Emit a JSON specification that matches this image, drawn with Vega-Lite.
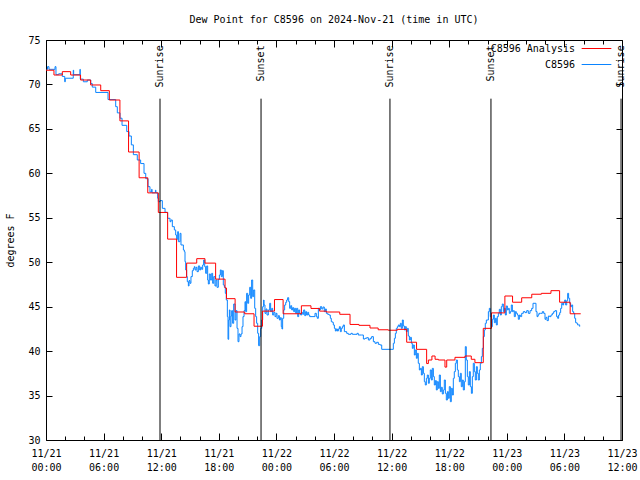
{
  "$schema": "https://vega.github.io/schema/vega-lite/v6.json",
  "autosize": "none",
  "width": 576,
  "height": 400,
  "padding": {"left": 46, "top": 40, "right": 18, "bottom": 40},
  "title": {"text": "Dew Point for C8596 on 2024-Nov-21 (time in UTC)", "font": "DejaVu Sans Mono", "fontSize": 10, "fontWeight": "normal", "color": "black", "anchor": "middle", "offset": 10},
  "config": {
    "font": "DejaVu Sans Mono",
    "view": {"stroke": "black", "strokeWidth": 1},
    "axis": {"grid": false, "domain": false, "labelFont": "DejaVu Sans Mono", "labelFontSize": 10, "labelColor": "black", "tickColor": "black", "titleFont": "DejaVu Sans Mono", "titleFontSize": 10, "titleFontWeight": "normal", "titleColor": "black"}
  },
  "datasets": {
    "sun": [
      {"h": 11.875, "label": "Sunrise"},
      {"h": 22.4, "label": "Sunset"},
      {"h": 35.83, "label": "Sunrise"},
      {"h": 46.35, "label": "Sunset"},
      {"h": 59.9, "label": "Sunrise"}
    ],
    "dew": [
      {"s":"C8596","h":0.07,"v":71.7},{"s":"C8596","h":0.16,"v":72.0},{"s":"C8596","h":0.31,"v":71.7},{"s":"C8596","h":0.94,"v":72.0},{"s":"C8596","h":1.04,"v":71.1},{"s":"C8596","h":1.32,"v":71.2},{"s":"C8596","h":1.7,"v":70.9},{"s":"C8596","h":1.95,"v":70.3},{"s":"C8596","h":2.01,"v":70.7},{"s":"C8596","h":2.84,"v":71.6},{"s":"C8596","h":2.88,"v":71.1},{"s":"C8596","h":3.54,"v":71.7},{"s":"C8596","h":3.57,"v":70.6},{"s":"C8596","h":3.89,"v":70.3},{"s":"C8596","h":4.3,"v":70.5},{"s":"C8596","h":4.66,"v":70.1},{"s":"C8596","h":4.82,"v":69.7},{"s":"C8596","h":5.18,"v":69.1},{"s":"C8596","h":6.46,"v":68.3},{"s":"C8596","h":7.26,"v":67.5},{"s":"C8596","h":7.43,"v":66.8},{"s":"C8596","h":7.71,"v":66.2},{"s":"C8596","h":7.92,"v":65.4},{"s":"C8596","h":8.41,"v":64.7},{"s":"C8596","h":8.65,"v":64.2},{"s":"C8596","h":8.89,"v":63.2},{"s":"C8596","h":9.1,"v":62.1},{"s":"C8596","h":9.51,"v":61.5},{"s":"C8596","h":9.86,"v":61.1},{"s":"C8596","h":10.21,"v":60.0},{"s":"C8596","h":10.39,"v":59.4},{"s":"C8596","h":10.63,"v":58.5},{"s":"C8596","h":10.83,"v":57.9},{"s":"C8596","h":11.0,"v":58.2},{"s":"C8596","h":11.05,"v":57.8},{"s":"C8596","h":11.4,"v":58.1},{"s":"C8596","h":11.45,"v":57.8},
      {"s":"C8596","h":11.63,"v":57.19},{"s":"C8596","h":11.7,"v":56.81},{"s":"C8596","h":11.88,"v":56.93},{"s":"C8596","h":12.12,"v":56.06},{"s":"C8596","h":12.4,"v":55.61},{"s":"C8596","h":12.67,"v":54.94},{"s":"C8596","h":12.92,"v":54.56},{"s":"C8596","h":13.02,"v":54.75},{"s":"C8596","h":13.16,"v":54.0},{"s":"C8596","h":13.37,"v":53.63},{"s":"C8596","h":13.51,"v":53.06},{"s":"C8596","h":13.61,"v":52.58},{"s":"C8596","h":13.72,"v":53.44},{"s":"C8596","h":13.79,"v":52.31},{"s":"C8596","h":13.96,"v":53.25},{"s":"C8596","h":14.06,"v":51.94},{"s":"C8596","h":14.31,"v":51.38},{"s":"C8596","h":14.41,"v":51.19},{"s":"C8596","h":14.48,"v":50.06},{"s":"C8596","h":14.55,"v":49.13},{"s":"C8596","h":14.65,"v":48.38},{"s":"C8596","h":14.72,"v":47.81},{"s":"C8596","h":14.83,"v":47.33},{"s":"C8596","h":14.9,"v":47.93},{"s":"C8596","h":15.0,"v":47.63},{"s":"C8596","h":15.1,"v":48.38},{"s":"C8596","h":15.24,"v":49.05},{"s":"C8596","h":15.35,"v":49.31},{"s":"C8596","h":15.45,"v":49.5},{"s":"C8596","h":15.52,"v":49.13},{"s":"C8596","h":15.63,"v":49.43},{"s":"C8596","h":15.73,"v":48.94},{"s":"C8596","h":15.87,"v":49.58},{"s":"C8596","h":16.01,"v":49.13},{"s":"C8596","h":16.11,"v":49.43},{"s":"C8596","h":16.22,"v":49.2},{"s":"C8596","h":16.32,"v":49.69},{"s":"C8596","h":16.42,"v":50.25},{"s":"C8596","h":16.53,"v":49.5},{"s":"C8596","h":16.63,"v":48.75},{"s":"C8596","h":16.74,"v":49.58},{"s":"C8596","h":16.84,"v":48.0},{"s":"C8596","h":16.91,"v":47.55},{"s":"C8596","h":17.01,"v":48.68},{"s":"C8596","h":17.12,"v":48.0},{"s":"C8596","h":17.26,"v":48.75},{"s":"C8596","h":17.36,"v":47.63},{"s":"C8596","h":17.47,"v":48.38},{"s":"C8596","h":17.6,"v":47.33},{"s":"C8596","h":17.71,"v":48.0},{"s":"C8596","h":17.81,"v":47.18},{"s":"C8596","h":17.95,"v":48.08},{"s":"C8596","h":18.06,"v":48.56},{"s":"C8596","h":18.16,"v":49.13},{"s":"C8596","h":18.26,"v":48.38},{"s":"C8596","h":18.37,"v":49.05},{"s":"C8596","h":18.47,"v":47.44},{"s":"C8596","h":18.58,"v":47.18},{"s":"C8596","h":18.68,"v":46.5},{"s":"C8596","h":18.78,"v":45.75},{"s":"C8596","h":18.89,"v":43.88},{"s":"C8596","h":18.96,"v":41.33},{"s":"C8596","h":19.03,"v":43.5},{"s":"C8596","h":19.1,"v":44.63},{"s":"C8596","h":19.17,"v":42.75},{"s":"C8596","h":19.27,"v":43.95},{"s":"C8596","h":19.34,"v":44.55},{"s":"C8596","h":19.44,"v":43.13},{"s":"C8596","h":19.55,"v":45.3},{"s":"C8596","h":19.69,"v":43.5},{"s":"C8596","h":19.79,"v":44.55},{"s":"C8596","h":19.9,"v":42.56},{"s":"C8596","h":20.0,"v":41.06},{"s":"C8596","h":20.1,"v":41.93},{"s":"C8596","h":20.21,"v":41.63},{"s":"C8596","h":20.31,"v":41.93},{"s":"C8596","h":20.42,"v":42.75},{"s":"C8596","h":20.52,"v":43.88},{"s":"C8596","h":20.63,"v":44.55},{"s":"C8596","h":20.73,"v":45.56},{"s":"C8596","h":20.8,"v":44.44},{"s":"C8596","h":20.9,"v":46.5},{"s":"C8596","h":21.01,"v":45.38},{"s":"C8596","h":21.11,"v":46.31},{"s":"C8596","h":21.22,"v":47.18},{"s":"C8596","h":21.32,"v":45.94},{"s":"C8596","h":21.42,"v":48.0},{"s":"C8596","h":21.53,"v":46.13},{"s":"C8596","h":21.63,"v":46.88},{"s":"C8596","h":21.74,"v":44.81},{"s":"C8596","h":21.84,"v":43.88},{"s":"C8596","h":21.94,"v":43.13},{"s":"C8596","h":22.05,"v":42.0},{"s":"C8596","h":22.15,"v":40.61},{"s":"C8596","h":22.26,"v":41.63},{"s":"C8596","h":22.36,"v":42.56},{"s":"C8596","h":22.47,"v":43.5},{"s":"C8596","h":22.57,"v":45.0},{"s":"C8596","h":22.67,"v":45.75},
      {"s":"C8596","h":22.71,"v":45.19},{"s":"C8596","h":22.81,"v":44.25},{"s":"C8596","h":22.92,"v":44.74},{"s":"C8596","h":23.02,"v":44.06},{"s":"C8596","h":23.16,"v":44.63},{"s":"C8596","h":23.3,"v":45.38},{"s":"C8596","h":23.4,"v":44.44},{"s":"C8596","h":23.51,"v":44.81},{"s":"C8596","h":23.61,"v":44.06},{"s":"C8596","h":23.72,"v":44.36},{"s":"C8596","h":23.85,"v":43.88},{"s":"C8596","h":23.96,"v":44.25},{"s":"C8596","h":24.06,"v":43.69},{"s":"C8596","h":24.2,"v":43.99},{"s":"C8596","h":24.31,"v":43.5},{"s":"C8596","h":24.41,"v":43.76},{"s":"C8596","h":24.51,"v":42.75},{"s":"C8596","h":24.58,"v":42.49},{"s":"C8596","h":24.65,"v":43.69},{"s":"C8596","h":24.76,"v":44.63},{"s":"C8596","h":24.86,"v":45.19},{"s":"C8596","h":24.97,"v":45.49},{"s":"C8596","h":25.07,"v":45.75},{"s":"C8596","h":25.17,"v":46.01},{"s":"C8596","h":25.28,"v":45.56},{"s":"C8596","h":25.38,"v":44.81},{"s":"C8596","h":25.49,"v":45.11},{"s":"C8596","h":25.59,"v":44.63},{"s":"C8596","h":25.69,"v":44.89},{"s":"C8596","h":25.8,"v":44.44},{"s":"C8596","h":25.9,"v":44.81},{"s":"C8596","h":26.01,"v":44.25},{"s":"C8596","h":26.11,"v":44.81},{"s":"C8596","h":26.22,"v":43.88},{"s":"C8596","h":26.32,"v":44.63},{"s":"C8596","h":26.42,"v":44.25},{"s":"C8596","h":26.53,"v":44.06},{"s":"C8596","h":26.63,"v":44.36},{"s":"C8596","h":26.74,"v":44.14},{"s":"C8596","h":26.84,"v":44.63},{"s":"C8596","h":26.95,"v":43.99},{"s":"C8596","h":27.05,"v":44.44},{"s":"C8596","h":27.15,"v":44.06},{"s":"C8596","h":27.26,"v":44.36},{"s":"C8596","h":27.36,"v":44.06},{"s":"C8596","h":27.47,"v":43.88},{"s":"C8596","h":28.02,"v":44.25},{"s":"C8596","h":28.16,"v":43.88},{"s":"C8596","h":28.26,"v":43.69},{"s":"C8596","h":28.37,"v":44.81},{"s":"C8596","h":28.47,"v":44.63},{"s":"C8596","h":28.58,"v":45.0},{"s":"C8596","h":28.72,"v":44.74},{"s":"C8596","h":28.85,"v":44.96},{"s":"C8596","h":28.99,"v":44.44},{"s":"C8596","h":29.1,"v":44.74},{"s":"C8596","h":29.2,"v":44.25},{"s":"C8596","h":29.34,"v":44.14},{"s":"C8596","h":29.48,"v":44.06},{"s":"C8596","h":29.62,"v":43.69},{"s":"C8596","h":29.72,"v":43.31},{"s":"C8596","h":29.83,"v":43.24},{"s":"C8596","h":29.93,"v":42.94},{"s":"C8596","h":30.04,"v":42.56},{"s":"C8596","h":30.14,"v":42.26},{"s":"C8596","h":30.24,"v":42.49},{"s":"C8596","h":30.35,"v":42.26},{"s":"C8596","h":30.45,"v":42.49},{"s":"C8596","h":30.56,"v":42.75},{"s":"C8596","h":30.66,"v":42.19},{"s":"C8596","h":30.76,"v":42.56},{"s":"C8596","h":30.87,"v":42.75},{"s":"C8596","h":30.97,"v":42.94},{"s":"C8596","h":31.08,"v":42.19},{"s":"C8596","h":31.32,"v":42.0},{"s":"C8596","h":31.49,"v":41.89},{"s":"C8596","h":31.77,"v":42.0},{"s":"C8596","h":31.91,"v":41.89},{"s":"C8596","h":32.4,"v":42.0},{"s":"C8596","h":32.53,"v":41.81},{"s":"C8596","h":32.88,"v":41.81},{"s":"C8596","h":33.06,"v":41.36},{"s":"C8596","h":33.23,"v":41.44},{"s":"C8596","h":33.4,"v":41.51},{"s":"C8596","h":33.58,"v":41.25},{"s":"C8596","h":33.75,"v":41.44},{"s":"C8596","h":33.92,"v":41.63},{"s":"C8596","h":34.1,"v":41.06},{"s":"C8596","h":34.27,"v":40.88},{"s":"C8596","h":34.44,"v":40.99},{"s":"C8596","h":34.62,"v":40.76},{"s":"C8596","h":34.79,"v":40.69},{"s":"C8596","h":34.97,"v":40.2},
      {"s":"C8596","h":36.18,"v":40.88},{"s":"C8596","h":36.29,"v":41.44},{"s":"C8596","h":36.39,"v":42.0},{"s":"C8596","h":36.49,"v":42.56},{"s":"C8596","h":36.6,"v":42.75},{"s":"C8596","h":36.7,"v":42.94},{"s":"C8596","h":36.81,"v":42.75},{"s":"C8596","h":36.91,"v":43.13},{"s":"C8596","h":37.01,"v":42.56},{"s":"C8596","h":37.12,"v":43.5},{"s":"C8596","h":37.22,"v":42.83},{"s":"C8596","h":37.33,"v":42.38},{"s":"C8596","h":37.43,"v":42.75},{"s":"C8596","h":37.53,"v":42.19},{"s":"C8596","h":37.64,"v":42.56},{"s":"C8596","h":37.74,"v":41.7},{"s":"C8596","h":37.85,"v":41.25},{"s":"C8596","h":37.95,"v":41.55},{"s":"C8596","h":38.06,"v":40.88},{"s":"C8596","h":38.16,"v":40.31},{"s":"C8596","h":38.26,"v":40.69},{"s":"C8596","h":38.37,"v":39.56},{"s":"C8596","h":38.47,"v":40.13},{"s":"C8596","h":38.58,"v":39.19},{"s":"C8596","h":38.68,"v":39.75},{"s":"C8596","h":38.78,"v":38.63},{"s":"C8596","h":38.89,"v":37.88},{"s":"C8596","h":38.99,"v":38.06},{"s":"C8596","h":39.1,"v":37.31},{"s":"C8596","h":39.2,"v":38.25},{"s":"C8596","h":39.31,"v":37.5},{"s":"C8596","h":39.41,"v":36.56},{"s":"C8596","h":39.51,"v":36.19},{"s":"C8596","h":39.62,"v":36.94},{"s":"C8596","h":39.72,"v":37.31},{"s":"C8596","h":39.83,"v":36.38},{"s":"C8596","h":39.93,"v":36.94},{"s":"C8596","h":40.03,"v":37.88},{"s":"C8596","h":40.14,"v":36.75},{"s":"C8596","h":40.24,"v":38.06},{"s":"C8596","h":40.35,"v":37.13},{"s":"C8596","h":40.45,"v":36.19},{"s":"C8596","h":40.56,"v":36.68},{"s":"C8596","h":40.66,"v":35.63},{"s":"C8596","h":40.76,"v":36.56},{"s":"C8596","h":40.87,"v":35.81},{"s":"C8596","h":40.97,"v":37.31},{"s":"C8596","h":41.08,"v":35.44},{"s":"C8596","h":41.18,"v":35.93},{"s":"C8596","h":41.28,"v":35.18},{"s":"C8596","h":41.39,"v":35.63},{"s":"C8596","h":41.49,"v":36.75},{"s":"C8596","h":41.6,"v":35.25},{"s":"C8596","h":41.7,"v":34.5},{"s":"C8596","h":41.81,"v":35.44},{"s":"C8596","h":41.91,"v":34.69},{"s":"C8596","h":42.01,"v":36.0},{"s":"C8596","h":42.12,"v":34.31},{"s":"C8596","h":42.22,"v":35.81},{"s":"C8596","h":42.33,"v":35.06},{"s":"C8596","h":42.43,"v":36.94},{"s":"C8596","h":42.53,"v":37.69},{"s":"C8596","h":42.64,"v":38.63},{"s":"C8596","h":42.74,"v":39.0},{"s":"C8596","h":42.85,"v":37.88},{"s":"C8596","h":42.95,"v":37.13},{"s":"C8596","h":43.06,"v":36.56},{"s":"C8596","h":43.16,"v":37.5},{"s":"C8596","h":43.26,"v":36.0},{"s":"C8596","h":43.37,"v":36.75},{"s":"C8596","h":43.47,"v":35.63},{"s":"C8596","h":43.58,"v":36.56},{"s":"C8596","h":43.68,"v":40.5},{"s":"C8596","h":43.78,"v":39.0},{"s":"C8596","h":43.89,"v":37.13},{"s":"C8596","h":43.99,"v":36.19},{"s":"C8596","h":44.1,"v":37.69},{"s":"C8596","h":44.2,"v":36.0},{"s":"C8596","h":44.31,"v":35.25},{"s":"C8596","h":44.41,"v":37.13},{"s":"C8596","h":44.51,"v":38.63},{"s":"C8596","h":44.62,"v":37.69},{"s":"C8596","h":44.72,"v":36.75},{"s":"C8596","h":44.83,"v":38.25},{"s":"C8596","h":44.93,"v":37.5},{"s":"C8596","h":45.03,"v":36.75},{"s":"C8596","h":45.14,"v":37.88},{"s":"C8596","h":45.24,"v":38.63},{"s":"C8596","h":45.35,"v":39.38},{"s":"C8596","h":45.45,"v":40.31},{"s":"C8596","h":45.56,"v":41.63},{"s":"C8596","h":45.66,"v":42.38},{"s":"C8596","h":45.76,"v":43.13},{"s":"C8596","h":45.87,"v":43.5},
      {"s":"C8596","h":46.08,"v":44.44},{"s":"C8596","h":46.18,"v":44.81},{"s":"C8596","h":46.28,"v":43.88},{"s":"C8596","h":46.39,"v":42.75},{"s":"C8596","h":46.49,"v":43.58},{"s":"C8596","h":46.6,"v":44.06},{"s":"C8596","h":46.7,"v":43.2},{"s":"C8596","h":46.81,"v":43.69},{"s":"C8596","h":46.91,"v":42.94},{"s":"C8596","h":47.01,"v":43.88},{"s":"C8596","h":47.12,"v":44.25},{"s":"C8596","h":47.22,"v":44.7},{"s":"C8596","h":47.33,"v":44.06},{"s":"C8596","h":47.43,"v":45.0},{"s":"C8596","h":47.53,"v":45.3},{"s":"C8596","h":47.64,"v":44.44},{"s":"C8596","h":47.74,"v":44.81},{"s":"C8596","h":47.85,"v":44.06},{"s":"C8596","h":47.95,"v":45.08},{"s":"C8596","h":48.06,"v":44.63},{"s":"C8596","h":48.16,"v":44.81},{"s":"C8596","h":48.26,"v":44.25},{"s":"C8596","h":48.37,"v":44.44},{"s":"C8596","h":48.47,"v":45.19},{"s":"C8596","h":48.58,"v":44.44},{"s":"C8596","h":48.68,"v":44.55},{"s":"C8596","h":48.78,"v":43.88},{"s":"C8596","h":48.89,"v":44.44},{"s":"C8596","h":48.99,"v":44.25},{"s":"C8596","h":49.1,"v":44.06},{"s":"C8596","h":49.2,"v":43.58},{"s":"C8596","h":49.31,"v":44.06},{"s":"C8596","h":49.41,"v":43.88},{"s":"C8596","h":49.55,"v":44.25},{"s":"C8596","h":49.72,"v":44.44},{"s":"C8596","h":49.9,"v":44.33},{"s":"C8596","h":50.07,"v":44.55},{"s":"C8596","h":50.24,"v":44.25},{"s":"C8596","h":50.42,"v":44.55},{"s":"C8596","h":50.59,"v":44.81},{"s":"C8596","h":50.73,"v":45.38},{"s":"C8596","h":50.94,"v":45.38},{"s":"C8596","h":51.04,"v":44.44},{"s":"C8596","h":51.15,"v":43.88},{"s":"C8596","h":51.25,"v":44.06},{"s":"C8596","h":51.35,"v":44.25},{"s":"C8596","h":51.53,"v":44.25},{"s":"C8596","h":51.7,"v":44.44},{"s":"C8596","h":51.84,"v":44.25},{"s":"C8596","h":51.98,"v":43.58},{"s":"C8596","h":52.08,"v":43.8},{"s":"C8596","h":52.19,"v":43.43},{"s":"C8596","h":52.33,"v":43.95},{"s":"C8596","h":52.46,"v":43.88},{"s":"C8596","h":52.6,"v":44.06},{"s":"C8596","h":52.74,"v":44.25},{"s":"C8596","h":52.88,"v":44.44},{"s":"C8596","h":53.02,"v":44.55},{"s":"C8596","h":53.19,"v":43.88},{"s":"C8596","h":53.3,"v":43.69},{"s":"C8596","h":53.4,"v":44.06},{"s":"C8596","h":53.51,"v":44.33},{"s":"C8596","h":53.61,"v":44.81},{"s":"C8596","h":53.72,"v":45.38},{"s":"C8596","h":53.82,"v":45.19},{"s":"C8596","h":53.92,"v":45.45},{"s":"C8596","h":54.03,"v":45.75},{"s":"C8596","h":54.13,"v":45.19},{"s":"C8596","h":54.24,"v":45.68},{"s":"C8596","h":54.34,"v":46.5},{"s":"C8596","h":54.44,"v":45.94},{"s":"C8596","h":54.55,"v":45.38},{"s":"C8596","h":54.65,"v":45.0},{"s":"C8596","h":54.76,"v":45.19},{"s":"C8596","h":54.86,"v":44.44},{"s":"C8596","h":54.96,"v":44.25},{"s":"C8596","h":55.07,"v":43.69},{"s":"C8596","h":55.17,"v":43.2},{"s":"C8596","h":55.28,"v":43.13},{"s":"C8596","h":55.38,"v":42.94},{"s":"C8596","h":55.49,"v":42.95},{"s":"C8596","h":55.59,"v":42.75},
      {"s":"C8596 Analysis","h":0,"v":71.6},{"s":"C8596 Analysis","h":0.83,"v":71.06},{"s":"C8596 Analysis","h":1.7,"v":71.44},{"s":"C8596 Analysis","h":2.57,"v":71.06},{"s":"C8596 Analysis","h":3.6,"v":70.5},{"s":"C8596 Analysis","h":4.65,"v":69.94},{"s":"C8596 Analysis","h":5.7,"v":69.3},{"s":"C8596 Analysis","h":6.6,"v":68.25},{"s":"C8596 Analysis","h":7.7,"v":65.9},{"s":"C8596 Analysis","h":8.6,"v":62.4},{"s":"C8596 Analysis","h":9.7,"v":59.5},{"s":"C8596 Analysis","h":10.6,"v":57.8},{"s":"C8596 Analysis","h":11.7,"v":55.6},{"s":"C8596 Analysis","h":12.67,"v":52.6},{"s":"C8596 Analysis","h":13.6,"v":48.3},{"s":"C8596 Analysis","h":14.65,"v":49.9},{"s":"C8596 Analysis","h":15.7,"v":50.4},{"s":"C8596 Analysis","h":16.56,"v":49.9},{"s":"C8596 Analysis","h":17.67,"v":48.1},{"s":"C8596 Analysis","h":18.65,"v":47.1},{"s":"C8596 Analysis","h":18.8,"v":45.9},{"s":"C8596 Analysis","h":19.7,"v":44.4},{"s":"C8596 Analysis","h":20.7,"v":44.2},{"s":"C8596 Analysis","h":21.67,"v":42.8},{"s":"C8596 Analysis","h":22.55,"v":44.5},{"s":"C8596 Analysis","h":23.8,"v":45.8},{"s":"C8596 Analysis","h":24.7,"v":44.2},{"s":"C8596 Analysis","h":26.6,"v":45.1},{"s":"C8596 Analysis","h":27.6,"v":44.8},{"s":"C8596 Analysis","h":28.5,"v":44.5},{"s":"C8596 Analysis","h":29.2,"v":44.4},{"s":"C8596 Analysis","h":30.6,"v":44.14},{"s":"C8596 Analysis","h":31.67,"v":43.0},{"s":"C8596 Analysis","h":32.6,"v":42.9},{"s":"C8596 Analysis","h":33.75,"v":42.6},{"s":"C8596 Analysis","h":34.6,"v":42.4},{"s":"C8596 Analysis","h":35.65,"v":42.35},{"s":"C8596 Analysis","h":36.6,"v":42.45},{"s":"C8596 Analysis","h":37.57,"v":41.0},{"s":"C8596 Analysis","h":38.6,"v":40.2},{"s":"C8596 Analysis","h":39.65,"v":38.6},{"s":"C8596 Analysis","h":39.83,"v":39.0},{"s":"C8596 Analysis","h":40.2,"v":39.45},{"s":"C8596 Analysis","h":40.53,"v":39.08},{"s":"C8596 Analysis","h":40.87,"v":39.0},{"s":"C8596 Analysis","h":41.56,"v":38.2},{"s":"C8596 Analysis","h":41.74,"v":39.0},{"s":"C8596 Analysis","h":42.6,"v":39.3},{"s":"C8596 Analysis","h":43.65,"v":39.45},{"s":"C8596 Analysis","h":44.3,"v":39.08},{"s":"C8596 Analysis","h":44.68,"v":38.7},{"s":"C8596 Analysis","h":45.55,"v":42.56},{"s":"C8596 Analysis","h":46.4,"v":44.3},{"s":"C8596 Analysis","h":47.8,"v":46.2},{"s":"C8596 Analysis","h":48.6,"v":45.5},{"s":"C8596 Analysis","h":49.55,"v":46.0},{"s":"C8596 Analysis","h":50.6,"v":46.4},{"s":"C8596 Analysis","h":51.6,"v":46.5},{"s":"C8596 Analysis","h":52.6,"v":46.8},{"s":"C8596 Analysis","h":53.5,"v":45.5},{"s":"C8596 Analysis","h":54.6,"v":44.2},{"s":"C8596 Analysis","h":55.7,"v":44.2}
    ]
  },
  "layer": [
    {
      "data": {"name": "dew"},
      "mark": {"type": "line", "interpolate": "step-after", "strokeWidth": 1},
      "encoding": {
        "x": {"field": "h", "type": "quantitative", "scale": {"domain": [0, 60], "nice": false, "zero": false},
          "axis": {"orient": "bottom", "title": null, "values": [0,2,4,6,8,10,12,14,16,18,20,22,24,26,28,30,32,34,36,38,40,42,44,46,48,50,52,54,56,58,60],
            "labelExpr": "datum.value % 6 === 0 ? ['11/' + (21 + floor(datum.value / 24)), ((datum.value % 24) < 10 ? '0' : '') + (datum.value % 24) + ':00'] : ''",
            "tickSize": {"condition": {"test": "datum.value % 6 === 0", "value": -7}, "value": -4},
            "labelPadding": 15, "labelLineHeight": 14, "labelBaseline": "top", "labelFlush": false, "labelOverlap": false}},
        "y": {"field": "v", "type": "quantitative", "scale": {"domain": [30, 75], "nice": false, "zero": false},
          "axis": {"orient": "left", "title": "degrees F", "values": [30,35,40,45,50,55,60,65,70,75], "tickSize": -6, "labelPadding": 12, "titlePadding": 12}},
        "color": {"field": "s", "type": "nominal",
          "scale": {"domain": ["C8596 Analysis", "C8596"], "range": ["#ff0000", "#0a84ff"]},
          "legend": {"orient": "none", "legendX": 540, "legendY": -2, "title": null, "symbolType": "M-1.5,0H1.5", "symbolSize": 392, "symbolStrokeWidth": 1, "symbolFillColor": "transparent", "labelAlign": "right", "labelOffset": -32, "labelFontSize": 10, "labelFont": "DejaVu Sans Mono", "labelColor": "black", "rowPadding": 0, "padding": 0}}
      }
    },
    {
      "data": {"name": "sun"},
      "mark": {"type": "rule", "color": "black", "strokeWidth": 1},
      "encoding": {
        "x": {"field": "h", "type": "quantitative",
          "axis": {"orient": "top", "title": null, "labels": false, "values": [0,2,4,6,8,10,12,14,16,18,20,22,24,26,28,30,32,34,36,38,40,42,44,46,48,50,52,54,56,58,60],
            "tickSize": {"condition": {"test": "datum.value % 6 === 0", "value": -7}, "value": -4}}},
        "y": {"datum": 30, "type": "quantitative",
          "axis": {"orient": "right", "title": null, "labels": false, "values": [30,35,40,45,50,55,60,65,70,75], "tickSize": -6}},
        "y2": {"datum": 68.4}
      }
    },
    {
      "data": {"name": "sun"},
      "mark": {"type": "text", "angle": 270, "align": "right", "baseline": "middle", "font": "DejaVu Sans Mono", "fontSize": 10, "color": "black"},
      "encoding": {
        "x": {"field": "h", "type": "quantitative", "axis": null},
        "y": {"datum": 74.4, "type": "quantitative", "axis": null},
        "text": {"field": "label"}
      }
    }
  ],
  "resolve": {"axis": {"x": "independent", "y": "independent"}}
}
